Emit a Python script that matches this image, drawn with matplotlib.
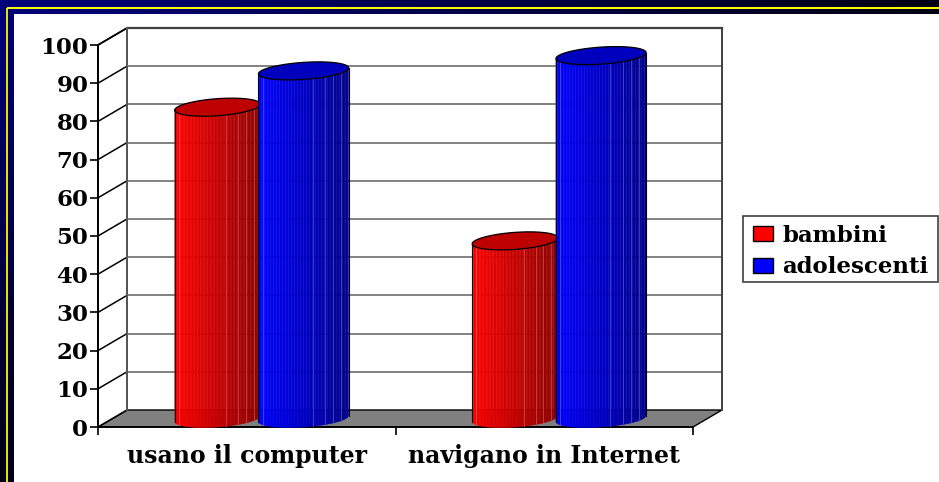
import numpy as np
import matplotlib
matplotlib.use('Agg')
import matplotlib.pyplot as plt
from matplotlib.patches import Polygon, Rectangle, Patch

categories = ['usano il computer', 'navigano in Internet']
bambini = [81.5, 46.5]
adolescenti = [91, 95]
y_ticks = [0, 10, 20, 30, 40, 50, 60, 70, 80, 90, 100]

W, H = 939, 482
plt.rcParams['font.family'] = ['DejaVu Serif']
plt.rcParams['font.weight'] = 'bold'
plt.rcParams['hatch.linewidth'] = 0.5
plt.rcParams['hatch.color'] = '#55557f'

fig = plt.figure(figsize=(W / 100, H / 100), dpi=100)

# slide background
bg = fig.add_axes([0, 0, 1, 1], zorder=0)
bg.set_xlim(0, W)
bg.set_ylim(H, 0)
bg.axis('off')
gx, gy = np.meshgrid(np.linspace(0, 1, 100), np.linspace(0, 1, 50))
g = np.clip(1 - (gx ** 2 + gy ** 2) ** 0.5, 0, 1)
img = np.dstack([np.zeros_like(g), np.zeros_like(g), 0.08 + 0.4 * g])
bg.imshow(img, extent=[0, W, H, 0], aspect='auto', zorder=0)
bg.add_patch(Rectangle((0, 0), W, H, facecolor='none', edgecolor='none', hatch='/////', alpha=0.5, zorder=1))
bg.add_patch(Rectangle((14, 14), W - 14, H - 14, facecolor='white', edgecolor='none', zorder=2))
bg.plot([7, 7], [H, 8], color='#e8e800', lw=1.4, zorder=3, solid_capstyle='butt')
bg.plot([7, W], [8, 8], color='#ffff00', lw=1.4, zorder=3, solid_capstyle='butt')
# legend box
bg.add_patch(Rectangle((743, 216), 195, 66, facecolor='white', edgecolor='#404040', lw=1.2, zorder=4))

# front plane of the chart
ax = fig.add_axes([98 / W, 1 - 427 / H, 595 / W, 382 / H], zorder=1)
ax.patch.set_alpha(0)
ax.set_xlim(0, 2)
ax.set_ylim(0, 100)
for s in ['top', 'right']:
    ax.spines[s].set_visible(False)
ax.spines['left'].set_linewidth(1.3)
ax.spines['bottom'].set_linewidth(1.3)

PX = 2 / 595
PY = 100 / 382
dx = 29 * PX
dy = 17 * PY

# walls and floor
ax.add_patch(Polygon([(0, 0), (dx, dy), (2 + dx, dy), (2, 0)], facecolor='#808080', edgecolor='black', lw=1, clip_on=False, zorder=1))
ax.add_patch(Polygon([(0, 0), (dx, dy), (dx, 100 + dy), (0, 100)], facecolor='white', edgecolor='black', lw=1.2, clip_on=False, zorder=1))
for t in y_ticks[1:]:
    ax.plot([dx, 2 + dx], [t + dy, t + dy], color='#777777', lw=1.3, clip_on=False, zorder=1)
    ax.plot([0, dx], [t, t + dy], color='black', lw=1.1, clip_on=False, zorder=1)
ax.plot([dx, 2 + dx], [100 + dy, 100 + dy], color='#404040', lw=1.6, clip_on=False, zorder=1)
ax.plot([2 + dx, 2 + dx], [dy, 100 + dy], color='#404040', lw=1.4, clip_on=False, zorder=1)
ax.plot([dx, dx], [dy, 100 + dy], color='#606060', lw=1.2, clip_on=False, zorder=1)

# 3d cylinders
stripes = [0.05, 0.6, 0.74, 0.83, 0.92]
edges = np.linspace(0, 1, 61)


def shade(frac, channel):
    v = 1.0 - 0.45 * frac
    c = [0.0, 0.0, 0.0]
    c[channel] = v
    return c


def cylinder(cx, value, width, channel, z):
    a = width / 2
    b = 8.5 * PY
    tilt = 3 * PY
    mid = value + dy / 2
    base = dy / 2
    for i in range(len(edges) - 1):
        xs = np.linspace(edges[i], edges[i + 1], 3)
        u = 2 * xs - 1
        low = -b * np.sqrt(np.clip(1 - u ** 2, 0, 1)) + tilt * u
        x = cx + a * u
        pts = list(zip(x, mid + low)) + list(zip(x[::-1], (base + low)[::-1]))
        col = shade((edges[i] + edges[i + 1]) / 2, channel)
        ax.add_patch(Polygon(pts, facecolor=col, edgecolor=col, lw=0.3, clip_on=False, zorder=z))
    for f in stripes:
        u = 2 * f - 1
        low = -b * np.sqrt(1 - u ** 2) + tilt * u
        light = [0.3, 0.3, 0.3]
        light[channel] = 1 - 0.3 * f
        ax.plot([cx + a * u, cx + a * u], [mid + low, base + low], color=light, lw=0.7, alpha=0.8, clip_on=False, zorder=z)
    t = np.linspace(0, 2 * np.pi, 80)
    top_col = [0.0, 0.0, 0.0]
    top_col[channel] = 0.74
    tx = cx + a * np.cos(t)
    ty = mid + b * np.sin(t) + tilt * np.cos(t)
    ax.add_patch(Polygon(list(zip(tx, ty)), facecolor=top_col, edgecolor='black', lw=0.9, clip_on=False, zorder=z + 0.1))
    ax.plot([cx - a, cx - a], [base - tilt, mid - tilt], color='black', lw=0.8, clip_on=False, zorder=z + 0.1)
    ax.plot([cx + a, cx + a], [base + tilt, mid + tilt], color='black', lw=0.8, clip_on=False, zorder=z + 0.1)


group_x = np.arange(len(categories)) + 0.5
for i in range(len(categories)):
    cylinder(group_x[i] - 0.147 + dx / 2, bambini[i], 0.288, 0, 3)
for i in range(len(categories)):
    cylinder(group_x[i] + 0.142 + dx / 2, adolescenti[i], 0.303, 2, 4)

# axis text
ax.set_yticks(y_ticks)
ax.set_yticklabels(y_ticks, fontsize=16.5, fontweight='bold')
ax.set_xticks([0, 1, 2])
ax.set_xticklabels([])
ax.set_xticks(group_x, minor=True)
ax.set_xticklabels(categories, minor=True, fontsize=17, fontweight='bold')
ax.tick_params(axis='x', which='minor', length=0, pad=12)
ax.tick_params(axis='x', which='major', length=6, width=1.2, direction='out')
ax.tick_params(axis='y', length=6, width=1.2, direction='out', pad=1)

handles = [Patch(facecolor='#ff0000', edgecolor='black', label='bambini'),
           Patch(facecolor='#0000ff', edgecolor='black', label='adolescenti')]
leg = fig.legend(handles=handles, loc='center left', bbox_to_anchor=(753 / W, 1 - 251.5 / H), borderaxespad=0,
                 frameon=False, handlelength=0.87, handleheight=0.62, handletextpad=0.42, labelspacing=0.42,
                 borderpad=0, prop={'weight': 'bold', 'size': 16.5})

fig.savefig('out.png', dpi=100)
